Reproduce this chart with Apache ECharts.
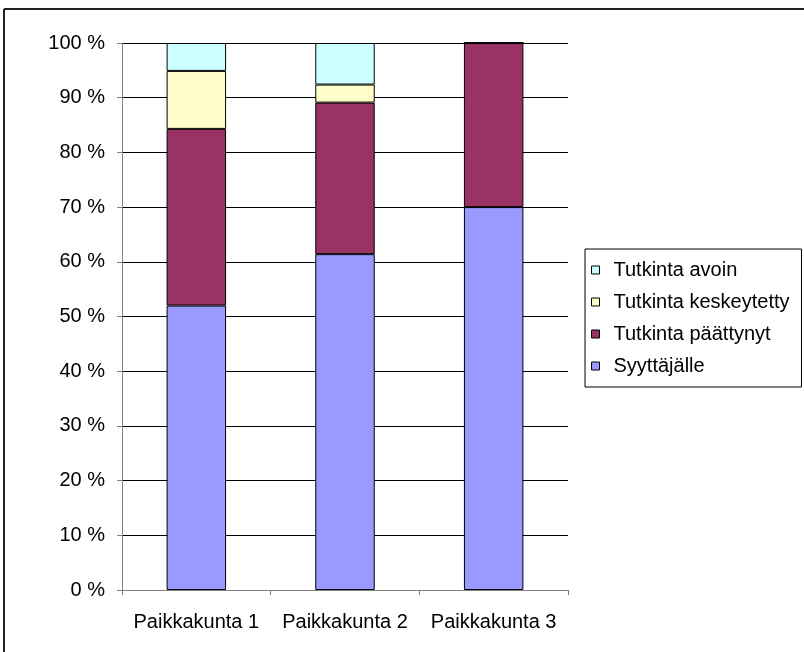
<!DOCTYPE html>
<html>
<head>
<meta charset="utf-8">
<title>Tutkinnat paikkakunnittain</title>
<script src="https://cdn.jsdelivr.net/npm/echarts@6/dist/echarts.min.js"></script>
<style>
	html, body { margin: 0; padding: 0; background: #fff; }
</style>
</head>
<body>
<div id="main" style="width:804px;height:652px;"></div>
<script type="text/javascript">
// kategoriat ja sarjat (prosentteina)
var categories = ['Paikkakunta 1', 'Paikkakunta 2', 'Paikkakunta 3'];
var syyttajalle = [52.0, 61.4, 70.0];
var paattynyt = [32.3, 27.7, 30.0];
var keskeytetty = [10.6, 3.3, 0];
var avoin = [5.1, 7.6, 0];
var yTicks = [0, 10, 20, 30, 40, 50, 60, 70, 80, 90, 100];

var font = 'Arial, "Liberation Sans", sans-serif';

var myChart = echarts.init(document.getElementById('main'));

function bar(name, data, color) {
	return {
		name: name,
		type: 'bar',
		stack: 'total',
		barWidth: '40%',
		data: data,
		itemStyle: { color: color, borderColor: '#000', borderWidth: 1 }
	};
}

var option = {
	animation: false,
	backgroundColor: '#fff',
	textStyle: { fontFamily: font },
	grid: { left: 122, right: 236, top: 43, bottom: 62 },
	// kehys vain ylä- ja vasemmalla reunalla
	graphic: [
		{ type: 'line', shape: { x1: 4, y1: 9, x2: 804, y2: 9 }, style: { stroke: '#222', lineWidth: 2 } },
		{ type: 'line', shape: { x1: 4, y1: 9, x2: 4, y2: 652 }, style: { stroke: '#222', lineWidth: 2 } }
	],
	legend: {
		orient: 'vertical',
		left: 585,
		top: 249,
		padding: [11, 12, 11, 6],
		itemGap: 12,
		itemWidth: 8,
		itemHeight: 8,
		icon: 'rect',
		borderColor: '#000',
		borderWidth: 1,
		itemStyle: { borderColor: '#000', borderWidth: 1 },
		textStyle: { fontSize: 20, color: '#000', fontFamily: font, padding: [0, 0, 0, 9] },
		data: ['Tutkinta avoin', 'Tutkinta keskeytetty', 'Tutkinta päättynyt', 'Syyttäjälle']
	},
	xAxis: {
		type: 'category',
		data: categories,
		axisLine: { lineStyle: { color: '#808080', width: 1 } },
		axisTick: { show: true, length: 5, lineStyle: { color: '#808080' } },
		axisLabel: { interval: 0, hideOverlap: false, fontSize: 20, color: '#000', margin: 22, fontFamily: font }
	},
	yAxis: {
		type: 'value',
		min: yTicks[0],
		max: yTicks[yTicks.length - 1],
		interval: 10,
		axisLine: { show: true, lineStyle: { color: '#808080', width: 1 } },
		axisTick: { show: true, length: 5, lineStyle: { color: '#808080' } },
		axisLabel: { fontSize: 20, color: '#000', margin: 17, fontFamily: font, formatter: '{value} %' },
		splitLine: { show: true, lineStyle: { color: '#000', width: 1 } }
	},
	series: [
		bar('Syyttäjälle', syyttajalle, '#9999FF'),
		bar('Tutkinta päättynyt', paattynyt, '#993366'),
		bar('Tutkinta keskeytetty', keskeytetty, '#FFFFCC'),
		bar('Tutkinta avoin', avoin, '#CCFFFF')
	]
};

myChart.setOption(option);
</script>
</body>
</html>
